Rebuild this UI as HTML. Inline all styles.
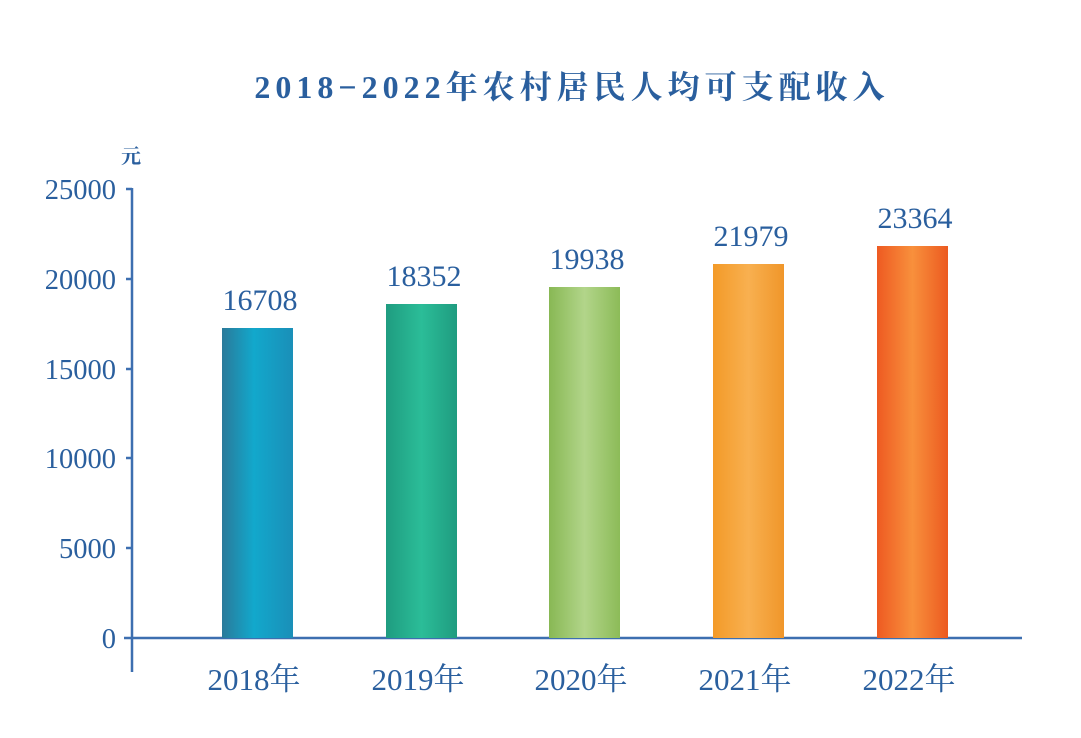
<!DOCTYPE html>
<html><head><meta charset="utf-8"><style>
html,body{margin:0;padding:0;background:#fff;}
svg{display:block;}
text{font-family:"Liberation Serif","Noto Serif CJK SC",serif;fill:#2a5f9e;}
</style></head><body>
<svg width="1081" height="738" viewBox="0 0 1081 738" xmlns="http://www.w3.org/2000/svg">
<defs>
<linearGradient id="g1" x1="0" x2="1"><stop offset="0" stop-color="#2a7a9a"/><stop offset="0.45" stop-color="#12a8cc"/><stop offset="1" stop-color="#1a8fb8"/></linearGradient>
<linearGradient id="g2" x1="0" x2="1"><stop offset="0" stop-color="#1f9c80"/><stop offset="0.5" stop-color="#2bbd98"/><stop offset="1" stop-color="#1f9c80"/></linearGradient>
<linearGradient id="g3" x1="0" x2="1"><stop offset="0" stop-color="#88b854"/><stop offset="0.5" stop-color="#b2d58a"/><stop offset="1" stop-color="#8cbb58"/></linearGradient>
<linearGradient id="g4" x1="0" x2="1"><stop offset="0" stop-color="#f39a28"/><stop offset="0.5" stop-color="#f8b050"/><stop offset="1" stop-color="#f0962a"/></linearGradient>
<linearGradient id="g5" x1="0" x2="1"><stop offset="0" stop-color="#ee5a22"/><stop offset="0.5" stop-color="#f8903c"/><stop offset="1" stop-color="#ec5a20"/></linearGradient>
</defs>
<text x="572" y="98" text-anchor="middle" font-size="32" font-weight="bold" style="letter-spacing:5px" fill="#1f5a96">2018−2022年农村居民人均可支配收入</text>
<text x="121" y="163" font-size="20" font-weight="bold">元</text>
<g stroke="#3d6fb0" stroke-width="2.5" fill="none">
<line x1="132" y1="188" x2="132" y2="672"/>
<line x1="124" y1="638" x2="1022" y2="638"/>
<line x1="126" y1="189" x2="132" y2="189"/>
<line x1="126" y1="279" x2="132" y2="279"/>
<line x1="126" y1="369" x2="132" y2="369"/>
<line x1="126" y1="458" x2="132" y2="458"/>
<line x1="126" y1="548" x2="132" y2="548"/>
</g>
<g font-size="28.5" text-anchor="end">
<text x="116" y="199">25000</text>
<text x="116" y="289">20000</text>
<text x="116" y="379">15000</text>
<text x="116" y="468">10000</text>
<text x="116" y="558">5000</text>
<text x="116" y="648">0</text>
</g>
<rect x="222" y="328" width="71" height="310" fill="url(#g1)"/>
<rect x="386" y="304" width="71" height="334" fill="url(#g2)"/>
<rect x="549" y="287" width="71" height="351" fill="url(#g3)"/>
<rect x="713" y="264" width="71" height="374" fill="url(#g4)"/>
<rect x="877" y="246" width="71" height="392" fill="url(#g5)"/>
<g font-size="30" text-anchor="middle">
<text x="260" y="310">16708</text>
<text x="424" y="286">18352</text>
<text x="587" y="269">19938</text>
<text x="751" y="246">21979</text>
<text x="915" y="228">23364</text>
</g>
<g font-size="31" text-anchor="middle">
<text x="254" y="690">2018年</text>
<text x="418" y="690">2019年</text>
<text x="581" y="690">2020年</text>
<text x="745" y="690">2021年</text>
<text x="909" y="690">2022年</text>
</g>
</svg>
</body></html>
